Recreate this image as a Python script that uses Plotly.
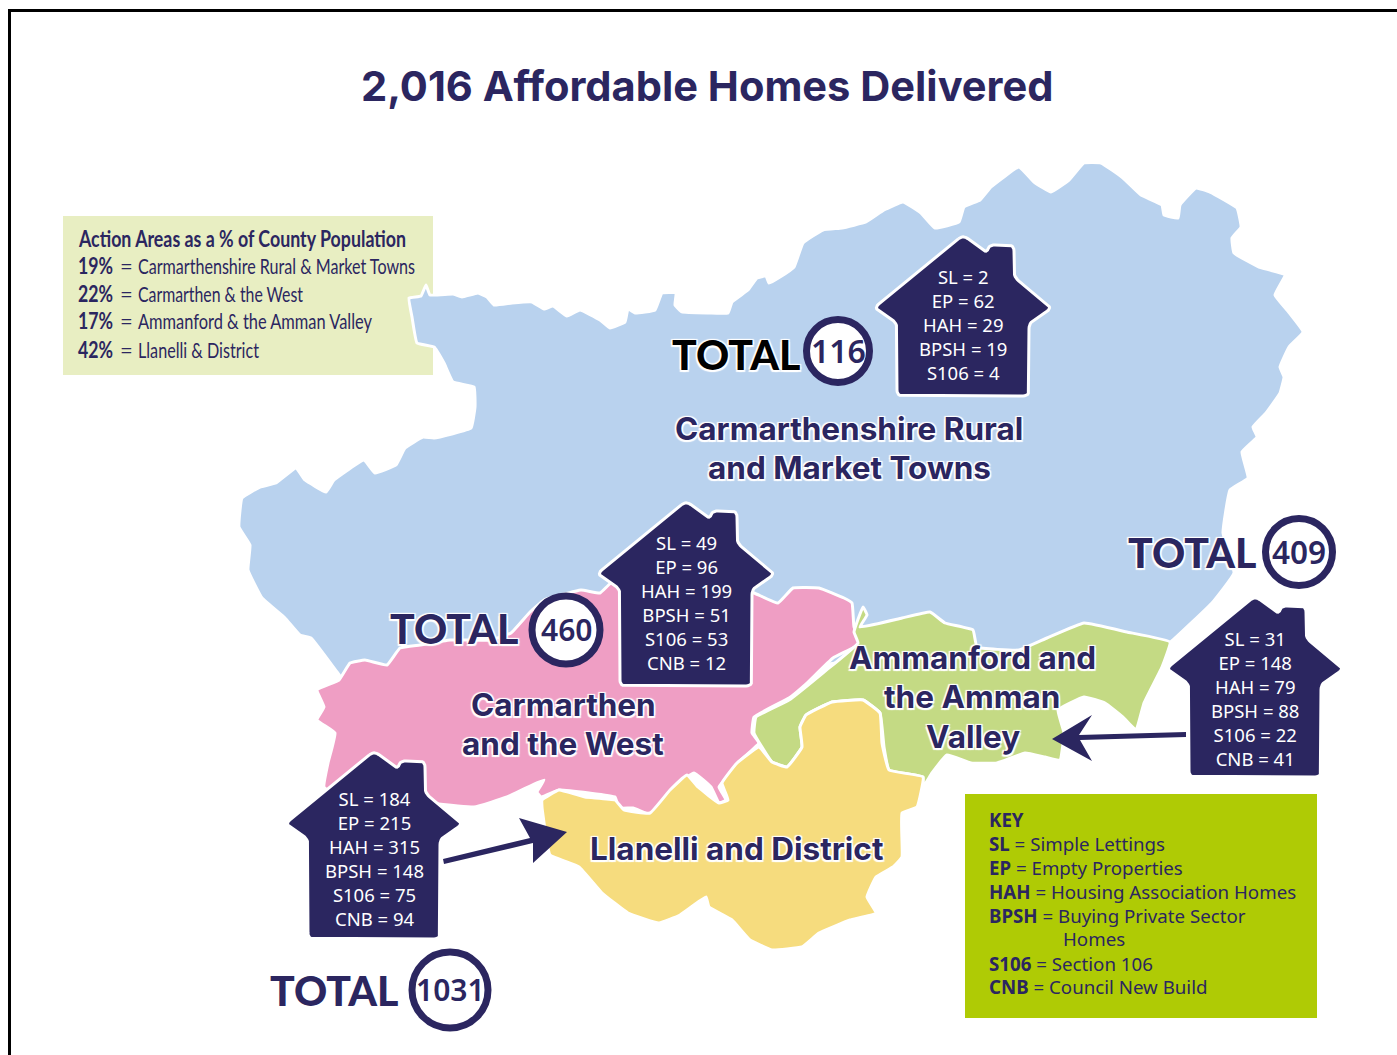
import json
import plotly.graph_objects as go

NAVY = "#2b2660"
TITLE = "2,016 Affordable Homes Delivered"

rural_outline = [(409,298),(421,296),(426,285),(430,295),(453,294),(462,297),(478,293),(487,297),(494,305),(512,303),(532,302),(544,309),(553,306),(567,316),(580,310),(600,320),(610,328),(625,322),(628,309),(635,313),(655,310),(662,293),(676,293),(675,305),(682,312),(709,313),(728,313),(732,302),(748,290),(757,278),(766,276),(769,283),(780,277),(794,267),(803,243),(823,230),(842,228),(866,222),(884,210),(903,202),(921,213),(935,228),(959,222),(964,207),(980,200),(991,187),(1019,167),(1034,182),(1051,192),(1069,180),(1084,163),(1101,163),(1123,178),(1141,195),(1162,205),(1164,215),(1178,218),(1180,205),(1196,188),(1210,192),(1237,208),(1241,227),(1232,238),(1234,253),(1259,267),(1285,275),(1275,295),(1287,310),(1303,332),(1289,347),(1280,367),(1284,377),(1280,393),(1266,413),(1253,427),(1257,437),(1242,452),(1248,478),(1230,490),(1223,533),(1234,573),(1212,603),(1173,640),(1160,650),(1040,665),(860,660),(720,680),(500,690),(345,682),(337,672),(311,638),(300,635),(285,618),(262,598),(248,570),(250,545),(239,527),(242,498),(260,487),(276,483),(296,468),(305,480),(326,492),(334,480),(364,460),(375,473),(396,465),(405,448),(423,437),(434,438),(471,428),(475,407),(474,387),(453,382),(444,363),(434,347),(417,343),(412,317)]

west_outline = [(317,690),(339,680),(350,663),(365,660),(387,665),(400,648),(420,645),(450,640),(490,640),(511,633),(530,612),(544,600),(581,590),(600,593),(611,583),(680,570),(754,593),(778,603),(793,588),(819,588),(844,598),(852,603),(854,627),(861,643),(833,658),(807,683),(789,698),(754,717),(752,733),(759,743),(741,760),(726,778),(719,787),(726,800),(719,803),(711,787),(694,773),(678,783),(661,803),(652,815),(633,808),(619,808),(615,797),(589,793),(559,790),(541,797),(537,792),(544,780),(507,797),(474,807),(400,800),(345,800),(324,787),(328,763),(335,733),(317,720),(324,707)]

amman_outline = [(863,607),(867,615),(860,627),(902,618),(930,612),(945,623),(973,630),(977,647),(1019,650),(1047,638),(1084,623),(1127,632),(1170,642),(1162,667),(1144,703),(1136,730),(1123,717),(1105,703),(1084,697),(1058,710),(1064,733),(1060,760),(1045,757),(1025,753),(997,763),(971,763),(947,755),(932,773),(923,787),(923,777),(889,770),(884,747),(880,713),(863,700),(832,702),(806,715),(800,727),(802,747),(787,767),(772,762),(754,733),(756,717),(789,700),(824,672),(858,643),(854,632)]

llanelli_outline = [(759,747),(772,762),(787,767),(802,747),(800,727),(806,715),(832,702),(863,700),(880,713),(882,743),(889,770),(923,777),(917,807),(902,813),(902,857),(893,867),(876,877),(867,897),(876,913),(850,920),(819,933),(802,947),(772,950),(750,940),(732,920),(709,907),(706,897),(680,915),(659,923),(628,913),(602,893),(579,867),(550,855),(546,837),(542,807),(542,800),(559,790),(585,797),(615,800),(624,810),(650,813),(670,790),(687,775),(698,787),(719,803),(728,800),(722,783),(737,763)]

house_labels = ["SL", "EP", "HAH", "BPSH", "S106", "CNB"]
rural_values = [2, 62, 29, 19, 4]
west_values = [49, 96, 199, 51, 53, 12]
amman_values = [31, 148, 79, 88, 22, 41]
llanelli_values = [184, 215, 315, 148, 75, 94]
totals = [116, 460, 409, 1031]

action_title = "Action Areas as a % of County Population"
action_pcts = ["19%", "22%", "17%", "42%"]
action_areas = ["Carmarthenshire Rural & Market Towns", "Carmarthen & the West", "Ammanford & the Amman Valley", "Llanelli & District"]
key_rows = [("SL", "Simple Lettings"), ("EP", "Empty Properties"), ("HAH", "Housing Association Homes"), ("BPSH", "Buying Private Sector"), ("", "Homes"), ("S106", "Section 106"), ("CNB", "Council New Build")]

# printed widths of the condensed panel text
condensed_widths = {action_title: 327, action_areas[0]: 277, action_areas[1]: 165, action_areas[2]: 234, action_areas[3]: 121,
                    action_pcts[0]: 35, action_pcts[1]: 35, action_pcts[2]: 35, action_pcts[3]: 35}

fig = go.Figure()


def poly(points, fill, line="#ffffff", width=3, spline=False):
    xs = [p[0] for p in points] + [points[0][0]]
    ys = [p[1] for p in points] + [points[0][1]]
    ln = dict(color=line, width=width)
    if spline:
        ln.update(shape="spline", smoothing=0.3)
    fig.add_trace(go.Scatter(x=xs, y=ys, mode="lines", fill="toself", fillcolor=fill, line=ln,
                             hoverinfo="skip", showlegend=False))


def rounded(points, r):
    out = []
    n = len(points)
    for i, p in enumerate(points):
        a, c = points[i - 1], points[(i + 1) % n]
        da = ((a[0] - p[0]) ** 2 + (a[1] - p[1]) ** 2) ** 0.5
        dc = ((c[0] - p[0]) ** 2 + (c[1] - p[1]) ** 2) ** 0.5
        ra, rc = min(r, da / 2), min(r, dc / 2)
        s = (p[0] + (a[0] - p[0]) * ra / da, p[1] + (a[1] - p[1]) * ra / da)
        e = (p[0] + (c[0] - p[0]) * rc / dc, p[1] + (c[1] - p[1]) * rc / dc)
        for k in range(7):
            t = k / 6
            out.append(((1 - t) ** 2 * s[0] + 2 * t * (1 - t) * p[0] + t * t * e[0],
                        (1 - t) ** 2 * s[1] + 2 * t * (1 - t) * p[1] + t * t * e[1]))
    return out


def text(x, y, s, size, color=NAVY, family="Lato", anchor="center", shadow=None, weight=None):
    font = dict(size=size, color=color, family=family)
    if shadow:
        font["shadow"] = shadow
    if weight:
        font["weight"] = weight
    fig.add_annotation(x=x, y=y, xref="x", yref="y", text=s, showarrow=False, font=font,
                       xanchor=anchor, yanchor="middle", align=anchor if anchor != "center" else "center",
                       borderpad=0, borderwidth=0)


HALO = "-1.5px -1.5px 1px #fff,1.5px -1.5px 1px #fff,-1.5px 1.5px 1px #fff,1.5px 1.5px 1px #fff"


def house(cx, top, bottom, labels, values, ymid):
    half = [(0, -2), (24, 16), (26, 8), (51, 8), (51, 40), (89, 71), (66, 86)]
    pts = [(cx + dx, top + dy) for dx, dy in half]
    pts += [(cx + 66, bottom), (cx - 66, bottom)]
    pts += [(cx - dx, top + dy) for dx, dy in [(66, 86), (89, 71)]]
    poly(rounded(pts, 6), NAVY)
    lines = "<br>".join(f"{lab} = {val}" for lab, val in zip(labels, values))
    text(cx, ymid, lines, 18.5, "#ffffff", "Noto Sans")


def total(x, y, cx, cy, d, value, size, color=NAVY, tsize=30):
    text(x, y, "TOTAL", size, color, "Lato", shadow=HALO, weight=900)
    fig.add_trace(go.Scatter(x=[cx], y=[cy], mode="markers",
                             marker=dict(size=d, color="#ffffff", line=dict(color=NAVY, width=7)),
                             hoverinfo="skip", showlegend=False))
    text(cx, cy - 0.5, str(value), tsize, NAVY, "Noto Sans", weight=600)


# pale population panel
poly([(63, 216), (433, 216), (433, 375), (63, 375)], "#e8eec2", "#e8eec2", 0)
# key panel
poly([(965, 794), (1317, 794), (1317, 1018), (965, 1018)], "#afcb05", "#afcb05", 0)

# regions
poly(rural_outline, "#b9d2ee", spline=True)
poly(west_outline, "#ef9ec4", spline=True)
poly(amman_outline, "#c4da84", spline=True)
poly(llanelli_outline, "#f6dc7e", spline=True)

# arrows
poly([(1186, 732), (1186, 737), (1080, 740), (1092, 761), (1052, 739), (1092, 715), (1079, 735)], NAVY, NAVY, 0)
poly([(443, 859), (444, 864), (533, 843), (533, 863), (567, 832), (519, 818), (530, 838)], NAVY, NAVY, 0)

# houses
house(963, 237, 396, house_labels, rural_values, 324.5)
house(686, 503, 686, house_labels, west_values, 602)
house(1255, 598, 777, house_labels, amman_values, 698.5)
house(374, 753, 939, house_labels, llanelli_values, 858.5)

# totals
total(736, 354, 838, 351, 63, totals[0], 41, "#000000", 32)
total(454, 628, 566, 630, 68, totals[1], 41, NAVY, 30)
total(1192, 552, 1299, 552, 67, totals[2], 41, NAVY, 31.5)
total(334, 990, 450, 990, 76, totals[3], 41, NAVY, 30)

# title and region names
text(707, 86, TITLE, 41.6, family="Inter", weight=700)
for x, y, s in [(849, 428, "Carmarthenshire Rural"), (849, 467, "and Market Towns"),
                (563, 704, "Carmarthen"), (563, 743, "and the West"),
                (972, 657, "Ammanford and"), (972, 696, "the Amman"), (973, 736, "Valley"),
                (736, 848, "Llanelli and District")]:
    text(x, y, s, 31.5, family="Inter", weight=700, shadow=HALO)

# population panel text
FN = "Lato"
AS = 22
text(78, 238.5, f"<b>{action_title}</b>", AS, family=FN, anchor="left")
for y, p, a in zip([265.5, 293.5, 320.5, 349.5], action_pcts, action_areas):
    text(78, y, f"<b>{p}</b>", AS, family=FN, anchor="left")
    text(120, y, "=", AS, family=FN, anchor="left")
    text(138, y, a.replace("&", "&amp;"), AS, family=FN, anchor="left")

# key text
text(989, 819, "<b>KEY</b>", 18.7, family="Noto Sans", anchor="left")
for y, (k, v) in zip([843, 867, 891, 915, 938.7, 963.2, 986], key_rows):
    if k:
        text(989, y, f"<b>{k}</b> = {v}", 18.7, family="Noto Sans", anchor="left")
    else:
        text(1063, y, v, 18.7, family="Noto Sans", anchor="left")

fig.update_layout(
    width=1397, height=1055, margin=dict(l=0, r=0, t=0, b=0),
    paper_bgcolor="#ffffff", plot_bgcolor="#ffffff", showlegend=False,
    xaxis=dict(range=[0, 1397], visible=False, fixedrange=True),
    yaxis=dict(range=[1055, 0], visible=False, fixedrange=True),
    shapes=[dict(type="rect", xref="x", yref="y", x0=9.5, y0=10.5, x1=1420, y1=1080,
                 line=dict(color="#000000", width=3), fillcolor="rgba(0,0,0,0)", layer="above")],
)

condense_js = """
document.body.style.margin='0';document.body.style.overflow='hidden';
var widths=%s;
document.querySelectorAll('.annotation-text').forEach(function(t){
  var w=widths[t.textContent];
  if(w){t.setAttribute('textLength',w);t.setAttribute('lengthAdjust','spacingAndGlyphs');}
});
""" % json.dumps(condensed_widths)
fig.write_html("out.html", config={"displayModeBar": False}, post_script=condense_js)
